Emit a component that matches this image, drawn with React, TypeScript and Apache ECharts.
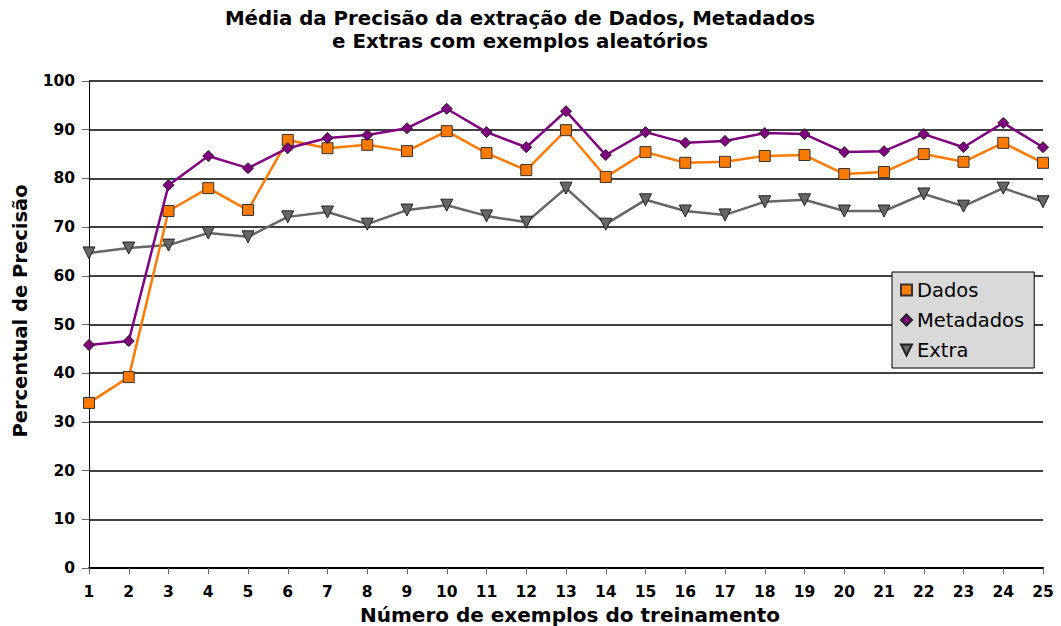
import React, { useEffect, useRef } from "react";
import * as echarts from "echarts";

const categories = ["1","2","3","4","5","6","7","8","9","10","11","12","13","14","15","16","17","18","19","20","21","22","23","24","25"];
const dados = [33.9, 39.2, 73.3, 78.0, 73.5, 87.9, 86.2, 86.9, 85.6, 89.7, 85.2, 81.7, 89.9, 80.3, 85.4, 83.2, 83.4, 84.6, 84.8, 80.9, 81.3, 85.0, 83.4, 87.3, 83.2];
const metadados = [45.8, 46.6, 78.6, 84.6, 82.1, 86.2, 88.3, 88.9, 90.3, 94.3, 89.5, 86.4, 93.8, 84.8, 89.5, 87.3, 87.7, 89.3, 89.1, 85.4, 85.6, 89.1, 86.4, 91.4, 86.4];
const extra = [64.7, 65.7, 66.3, 68.8, 68.0, 72.1, 73.1, 70.6, 73.5, 74.5, 72.3, 71.0, 78.0, 70.6, 75.6, 73.3, 72.5, 75.2, 75.6, 73.3, 73.3, 76.8, 74.3, 78.0, 75.2];

const FONT = "DejaVu Sans";

export default function App() {
  const ref = useRef<HTMLDivElement>(null);
  useEffect(() => {
    if (!ref.current) return;
    const chart = echarts.init(ref.current, null, { renderer: "svg" });
    chart.setOption({
      animation: false,
      backgroundColor: "#ffffff",
      textStyle: { fontFamily: FONT },
      graphic: [
        { type: "text", x: 520, y: 18, style: { text: "Média da Precisão da extração de Dados, Metadados", textAlign: "center", textVerticalAlign: "middle", font: `bold 19.8px "${FONT}"`, fill: "#000" } },
        { type: "text", x: 520, y: 41, style: { text: "e Extras com exemplos aleatórios", textAlign: "center", textVerticalAlign: "middle", font: `bold 19.8px "${FONT}"`, fill: "#000" } },
        { type: "text", x: 20, y: 311, rotation: Math.PI / 2, style: { text: "Percentual de Precisão", textAlign: "center", textVerticalAlign: "middle", font: `bold 19.5px "${FONT}"`, fill: "#000" } },
      ],
      grid: { left: 89, right: 18, top: 81, bottom: 58, containLabel: false, outerBoundsMode: "none" },
      legend: {
        orient: "vertical",
        left: 892,
        top: 272,
        padding: [8, 10, 8, 8],
        itemGap: 10,
        itemWidth: 11,
        itemHeight: 11,
        itemTextGap: 9,
        backgroundColor: "#d9d9d9",
        borderColor: "#000",
        borderWidth: 1,
        borderRadius: 0,
        textStyle: { fontFamily: FONT, fontSize: 19.5, color: "#000", lineHeight: 20 },
        data: [
          { name: "Dados", icon: "rect" },
          { name: "Metadados", icon: "diamond" },
          { name: "Extra", icon: "path://M0,0 L10,0 L5,10 Z" },
        ],
      },
      xAxis: {
        type: "category",
        data: categories,
        boundaryGap: false,
        name: "Número de exemplos do treinamento",
        nameLocation: "middle",
        nameGap: 36,
        nameTextStyle: { fontFamily: FONT, fontSize: 20, fontWeight: "bold", color: "#000", padding: [0, 0, 0, 8] },
        axisLine: { lineStyle: { color: "#000", width: 2 } },
        axisTick: { show: true, alignWithLabel: true, length: 6, lineStyle: { color: "#666", width: 1 } },
        axisLabel: { fontFamily: FONT, fontSize: 15.5, fontWeight: "bold", color: "#000", margin: 16, interval: 0 },
      },
      yAxis: {
        type: "value",
        min: 0,
        max: 100,
        interval: 10,
        axisLine: { show: true, lineStyle: { color: "#000", width: 1 } },
        axisTick: { show: true, length: 7, lineStyle: { color: "#666", width: 1 } },
        axisLabel: { fontFamily: FONT, fontSize: 15.5, fontWeight: "bold", color: "#000", margin: 14 },
        splitLine: { show: true, lineStyle: { color: "#000", width: 1.5 } },
      },
      series: [
        {
          name: "Dados",
          type: "line",
          data: dados,
          symbol: "rect",
          symbolSize: 11,
          lineStyle: { color: "#ff7a00", width: 2.5 },
          itemStyle: { color: "#ff7a00", borderColor: "#333", borderWidth: 1 },
          z: 3,
        },
        {
          name: "Metadados",
          type: "line",
          data: metadados,
          symbol: "diamond",
          symbolSize: 11,
          lineStyle: { color: "#800080", width: 2.5 },
          itemStyle: { color: "#800080", borderColor: "#222", borderWidth: 1 },
          z: 4,
        },
        {
          name: "Extra",
          type: "line",
          data: extra,
          symbol: "triangle",
          symbolRotate: 180,
          symbolSize: 12,
          lineStyle: { color: "#666666", width: 2.5 },
          itemStyle: { color: "#666666", borderColor: "#222", borderWidth: 1 },
          z: 2,
        },
      ],
    });
    return () => chart.dispose();
  }, []);
  return <div ref={ref} style={{ position: "fixed", left: 0, top: 0, width: 1061, height: 626 }} />;
}
